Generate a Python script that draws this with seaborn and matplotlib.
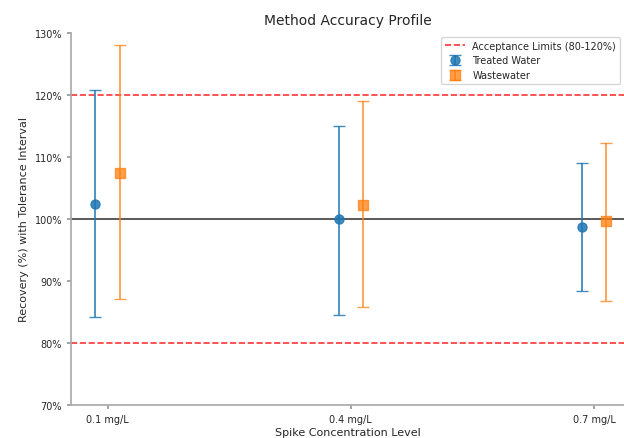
import matplotlib
matplotlib.use("Agg")
import matplotlib.pyplot as plt
import seaborn as sns

# Spike levels (mg/L) and recovery results
levels = [0.1, 0.4, 0.7]
level_labels = ["0.1 mg/L", "0.4 mg/L", "0.7 mg/L"]

treated_mean = [102.4, 100.0, 98.7]
treated_lower = [84.2, 84.5, 88.4]
treated_upper = [120.8, 115.0, 109.0]

waste_mean = [107.4, 102.3, 99.6]
waste_lower = [87.1, 85.8, 86.8]
waste_upper = [128.0, 119.0, 112.3]

sns.set_theme(style="white")
plt.rcParams["font.family"] = ["DejaVu Sans"]

fig = plt.figure(figsize=(6.24, 4.39), dpi=100)
ax = fig.add_axes([0.114, 0.075, 0.886, 0.848])

colors = sns.color_palette("tab10")
offset = 0.015

ax.axhline(100, color="black", linewidth=1.3, alpha=0.7, zorder=1)
ax.axhline(80, color="red", linestyle="--", linewidth=1.2, alpha=0.8, zorder=1,
           label="Acceptance Limits (80-120%)")
ax.axhline(120, color="red", linestyle="--", linewidth=1.2, alpha=0.8, zorder=1)

x_t = [x - offset for x in levels]
x_w = [x + offset for x in levels]
err_t = [[m - lo for m, lo in zip(treated_mean, treated_lower)],
         [hi - m for m, hi in zip(treated_mean, treated_upper)]]
err_w = [[m - lo for m, lo in zip(waste_mean, waste_lower)],
         [hi - m for m, hi in zip(waste_mean, waste_upper)]]

ax.errorbar(x_t, treated_mean, yerr=err_t, fmt="o", color=colors[0], ecolor=colors[0],
            elinewidth=1.3, capsize=4, markersize=6.5, alpha=0.85, label="Treated Water", zorder=3)
ax.errorbar(x_w, waste_mean, yerr=err_w, fmt="s", color=colors[1], ecolor=colors[1],
            elinewidth=1.3, capsize=4, markersize=6.5, alpha=0.75, label="Wastewater", zorder=3)

ax.set_xlim(0.055, 0.737)
ax.set_ylim(70, 130)
ax.set_xticks(levels)
ax.set_xticklabels(level_labels, fontsize=7)
ax.set_yticks(range(70, 131, 10))
ax.set_yticklabels([f"{v}%" for v in range(70, 131, 10)], fontsize=7)
ax.tick_params(axis="both", length=3, color="#999999", bottom=True, left=True)
for side in ["left", "bottom"]:
    ax.spines[side].set_color("#aaaaaa")
sns.despine(ax=ax)

ax.set_xlabel("Spike Concentration Level", fontsize=8, labelpad=2)
ax.set_ylabel("Recovery (%) with Tolerance Interval", fontsize=8)
ax.set_title("Method Accuracy Profile", fontsize=10)

ax.legend(loc="upper right", fontsize=7, frameon=True, borderaxespad=0.4)

fig.savefig("out.png", dpi=100)
